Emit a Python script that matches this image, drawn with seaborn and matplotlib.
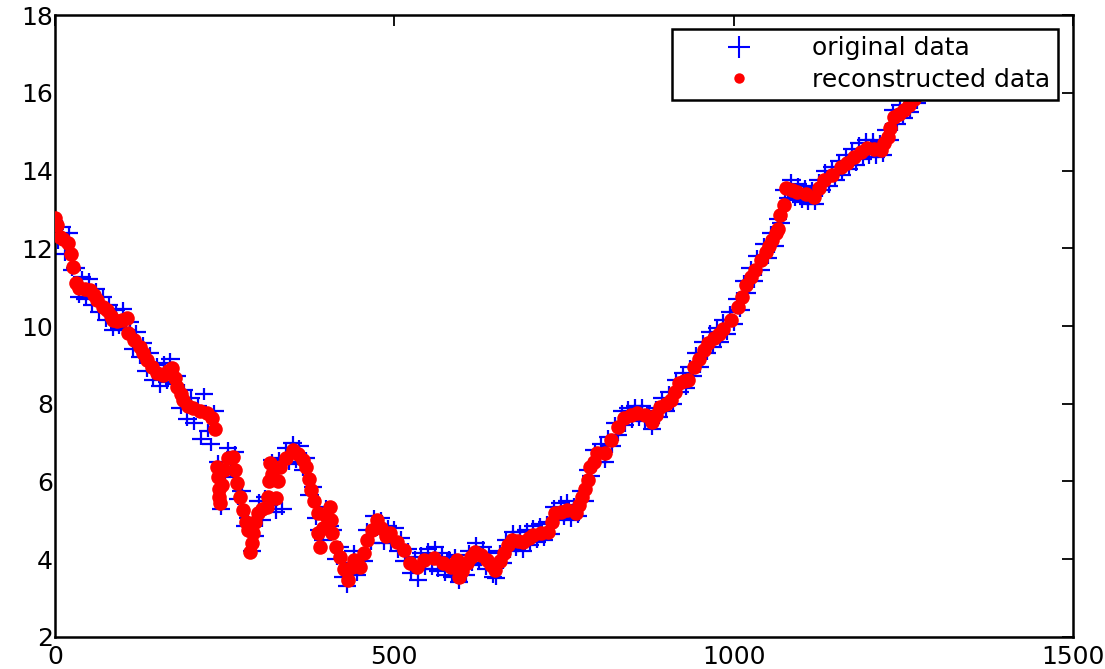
import numpy as np
import matplotlib
matplotlib.use("Agg")
import matplotlib.pyplot as plt
from matplotlib.lines import Line2D
from matplotlib.path import Path
import seaborn as sns

# original samples, one every 5 steps (0 .. 1280)
orig_x = np.arange(0, 1285, 5)
orig_y = [12.5, 12.15, 12.55, 11.85, 12.4, 11.45, 11.5, 10.75, 11.25, 10.7,
          11.2, 10.55, 10.95, 10.35, 10.75, 10.15, 10.55, 9.9, 10.4, 9.95,
          10.45, 9.9, 10.1, 9.4, 9.85, 9.2, 9.55, 8.85, 9.3, 8.6,
          9.0, 8.45, 9.05, 8.55, 9.15, 8.5, 8.7, 7.9, 8.35, 7.6,
          8.15, 7.5, 7.95, 7.1, 8.25, 7.3, 6.95, 7.8, 6.5, 5.3,
          6.1, 6.85, 6.3, 6.75, 5.55, 5.75, 4.85, 5.05, 4.2, 4.6,
          5.5, 5.0, 5.6, 5.4, 6.55, 5.2, 6.6, 5.3, 6.85, 6.45,
          7.0, 6.5, 6.9, 6.3, 6.6, 5.65, 5.85, 5.05, 4.75, 4.5,
          5.35, 4.85, 4.75, 4.0, 4.3, 3.55, 3.3, 3.9, 4.2, 3.6,
          4.05, 3.95, 4.75, 4.4, 5.1, 4.75, 5.05, 4.4, 4.85, 4.4,
          4.8, 4.2, 4.55, 3.95, 4.25, 3.65, 4.05, 3.45, 4.15, 3.75,
          4.25, 3.75, 4.3, 3.7, 4.15, 3.6, 4.05, 3.55, 4.1, 3.4,
          3.95, 3.6, 4.2, 3.85, 4.4, 3.9, 4.3, 3.75, 4.15, 3.55,
          3.5, 4.2, 3.9, 4.5, 4.2, 4.7, 4.25, 4.7, 4.2, 4.75,
          4.35, 4.85, 4.45, 4.9, 4.5, 4.95, 4.65, 5.35, 5.0, 5.45,
          5.05, 5.5, 5.0, 5.4, 5.1, 5.75, 5.5, 6.3, 6.15, 6.8,
          6.5, 6.95, 6.5, 7.15, 6.9, 7.5, 7.2, 7.8, 7.45, 7.9,
          7.55, 7.95, 7.6, 7.95, 7.55, 7.8, 7.35, 7.9, 7.65, 8.15,
          7.8, 8.3, 8.0, 8.6, 8.3, 8.8, 8.4, 8.95, 8.7, 9.3,
          8.95, 9.6, 9.3, 9.85, 9.45, 9.95, 9.6, 10.15, 9.8, 10.35,
          10.05, 10.7, 10.4, 11.15, 10.85, 11.5, 11.15, 11.8, 11.45, 12.1,
          11.75, 12.4, 12.05, 12.75, 12.65, 13.5, 13.3, 13.75, 13.25, 13.65,
          13.2, 13.6, 13.15, 13.55, 13.15, 13.75, 13.5, 14.0, 13.6, 14.1,
          13.75, 14.25, 13.9, 14.4, 14.05, 14.55, 14.15, 14.7, 14.3, 14.8,
          14.35, 14.8, 14.35, 14.75, 14.4, 15.05, 14.8, 15.55, 15.2, 15.7,
          15.35, 15.85, 15.5, 16.05, 15.75, 16.3, 16.0]

# reconstructed samples
rec_x = [0, 3, 7, 12, 19, 23, 27, 31, 36, 44, 52, 57, 62, 70, 77, 82, 86, 92, 99, 106,
         108, 116, 125, 130, 136, 143, 150, 159, 166, 173, 177, 180, 185, 189, 196, 204,
         214, 224, 232, 236, 239, 240, 241, 242, 243, 246, 249, 255, 262, 265, 268, 273,
         277, 282, 285, 288, 290, 292, 295, 299, 305, 312, 314, 316, 317, 320, 325, 328,
         331, 340, 351, 358, 365, 370, 374, 377, 382, 388, 388, 391, 395, 400, 405, 406,
         408, 414, 420, 426, 432, 437, 441, 447, 450, 455, 460, 467, 475, 480, 487, 494,
         504, 514, 523, 534, 543, 558, 572, 583, 590, 593, 595, 600, 607, 613, 619, 628,
         637, 643, 649, 655, 661, 668, 674, 682, 690, 698, 705, 716, 726, 732, 737, 746,
         755, 767, 772, 777, 781, 785, 789, 794, 799, 811, 819, 829, 838, 848, 858, 870,
         880, 886, 892, 900, 907, 913, 919, 927, 932, 941, 949, 956, 962, 971, 978, 985,
         996, 1006, 1012, 1018, 1025, 1032, 1040, 1047, 1052, 1057, 1062, 1065, 1069, 1074,
         1077, 1086, 1094, 1106, 1118, 1125, 1133, 1145, 1158, 1167, 1177, 1187, 1197, 1207,
         1217, 1222, 1227, 1231, 1236, 1243, 1251, 1258, 1265, 1272, 1280]
rec_y = [12.78, 12.6, 12.3, 12.25, 12.14, 11.85, 11.52, 11.1, 10.98, 10.95, 10.93, 10.8,
         10.67, 10.5, 10.41, 10.25, 10.15, 10.12, 10.15, 10.2,
         9.82, 9.65, 9.46, 9.3, 9.12, 8.95, 8.79, 8.74, 8.85, 8.92, 8.65, 8.43, 8.25, 8.1,
         7.95, 7.89, 7.82, 7.76, 7.63, 7.35, 6.37, 6.1, 5.8, 5.6, 5.44, 5.9, 6.3, 6.6,
         6.63, 6.3, 5.96, 5.6, 5.26, 4.95, 4.75, 4.18, 4.4, 4.67, 4.95, 5.18, 5.3, 5.34,
         5.6, 6.0, 6.47, 6.2, 5.57, 6.0, 6.37, 6.6, 6.81, 6.7, 6.55, 6.37, 6.05, 5.78,
         5.5, 5.18, 4.67, 4.31, 4.8, 5.1, 5.34, 5.0, 4.67, 4.3, 4.05, 3.75, 3.46, 3.8,
         3.97, 3.85, 3.79, 4.15, 4.49, 4.75, 5.0, 4.8, 4.6, 4.67,
         4.45, 4.23, 3.9, 3.79, 3.97, 4.03, 3.9, 3.79, 3.9, 3.97, 3.54, 3.7, 3.9, 4.05,
         4.18, 4.1, 3.97, 3.85, 3.72, 3.95, 4.15, 4.35, 4.49, 4.47, 4.44, 4.55, 4.62, 4.67,
         4.7, 4.95, 5.18, 5.22, 5.26, 5.18, 5.4, 5.6, 5.8, 6.03, 6.37, 6.5, 6.73, 6.73,
         7.07, 7.4, 7.63, 7.72, 7.76, 7.71, 7.53, 7.7, 7.92, 8.0, 8.1, 8.3, 8.53, 8.58,
         8.61, 8.95, 9.15, 9.38, 9.56, 9.69, 9.8, 9.92, 10.15, 10.49, 10.75, 11.06, 11.25,
         11.44, 11.7, 11.91, 12.05, 12.21, 12.4, 12.5, 12.85, 13.12,
         13.55, 13.5, 13.45, 13.4, 13.32, 13.55, 13.76, 13.9, 14.09, 14.2, 14.35, 14.48,
         14.58, 14.55, 14.53, 14.7, 14.87, 15.1, 15.38, 15.47, 15.56, 15.7, 15.85, 16.0, 16.2]

x_ticks = [0, 500, 1000, 1500]
y_ticks = [2, 4, 6, 8, 10, 12, 14, 16, 18]

# plus sign a bit wider than tall, like the stretched original
plus = Path([(-1.35, 0), (1.35, 0), (0, -0.95), (0, 0.95)],
            [Path.MOVETO, Path.LINETO, Path.MOVETO, Path.LINETO])

sns.set_style("white")
plt.rcParams["font.family"] = ["DejaVu Sans"]

fig = plt.figure(figsize=(11.05, 6.69), dpi=100)
ax = fig.add_axes([55 / 1105, 1 - 636.7 / 669, 1018 / 1105, 621.4 / 669])

sns.scatterplot(x=orig_x, y=orig_y, marker=plus, facecolor="none",
                edgecolor="#0000ff", s=175, linewidth=1.6, ax=ax, zorder=2)
sns.scatterplot(x=rec_x, y=rec_y, marker="o", color="#ff0000", s=110,
                linewidth=0, ax=ax, zorder=3)

ax.set_xlim(0, 1500)
ax.set_ylim(2, 18)
ax.set_xticks(x_ticks)
ax.set_yticks(y_ticks)
ax.tick_params(direction="in", length=8, width=1.3, top=True, right=True,
               labelsize=18, colors="black", labelcolor="black")
ax.tick_params(axis="x", pad=6)
ax.tick_params(axis="y", pad=1.5)
for sp in ax.spines.values():
    sp.set_visible(True)
    sp.set_color("black")
    sp.set_linewidth(1.8)

handles = [
    Line2D([], [], linestyle="none", marker="+", color="#0000ff", markersize=16, markeredgewidth=1.5),
    Line2D([], [], linestyle="none", marker="o", color="#ff0000", markersize=7.5, markeredgewidth=0),
]
leg = ax.legend(handles, ["original data", "reconstructed data"],
                loc="upper right", bbox_to_anchor=(1003 / 1018, (636.7 - 29) / 621.4),
                borderaxespad=0, fancybox=False, framealpha=1, edgecolor="black",
                fontsize=18, labelcolor="black", handlelength=4.7, handletextpad=0.6,
                labelspacing=0.3, borderpad=0.3)
leg.get_frame().set_linewidth(1.8)
leg.set_zorder(5)

fig.savefig("out.png", dpi=100)
